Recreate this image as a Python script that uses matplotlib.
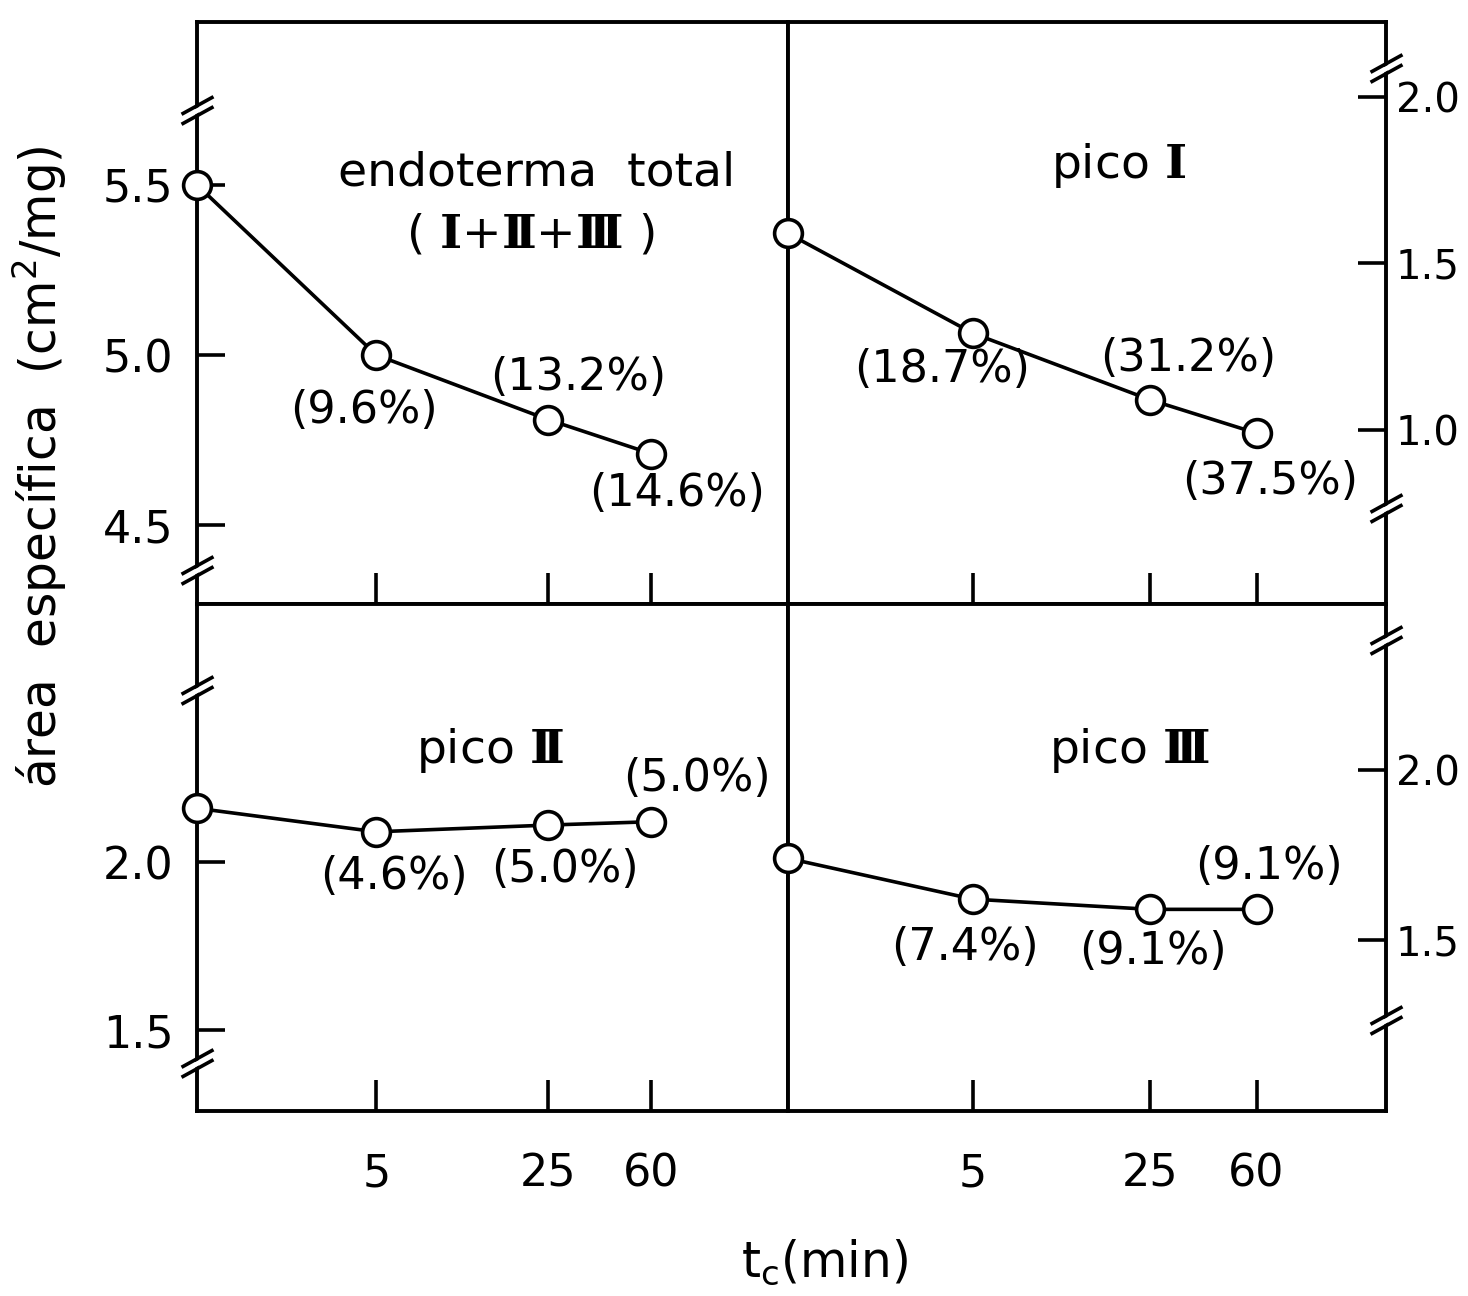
import numpy as np
import matplotlib
matplotlib.use("Agg")
import matplotlib.pyplot as plt
from matplotlib import transforms

# curing time (min) and specific area of each endotherm
t_min = [0, 5, 25, 60]
xtick_values = [5, 25, 60]
xtick_labels = ["5", "25", "60"]

area_total = [5.50, 5.00, 4.81, 4.71]
area_pico1 = [1.59, 1.29, 1.09, 0.99]
area_pico2 = [2.16, 2.09, 2.11, 2.12]
area_pico3 = [1.74, 1.62, 1.59, 1.59]

pct_total = ["", "(9.6%)", "(13.2%)", "(14.6%)"]
pct_pico1 = ["", "(18.7%)", "(31.2%)", "(37.5%)"]
pct_pico2 = ["", "(4.6%)", "(5.0%)", "(5.0%)"]
pct_pico3 = ["", "(7.4%)", "(9.1%)", "(9.1%)"]

yticks_total = [4.5, 5.0, 5.5]
yticks_pico1 = [1.0, 1.5, 2.0]
yticks_pico2 = [1.5, 2.0]
yticks_pico3 = [1.5, 2.0]

FS = 32
LW = 2.6

plt.rcParams["font.family"] = ["DejaVu Sans"]
plt.rcParams["mathtext.fontset"] = "custom"
plt.rcParams["mathtext.rm"] = "DejaVu Serif"
plt.rcParams["mathtext.bf"] = "DejaVu Serif:bold"
plt.rcParams["mathtext.sf"] = "DejaVu Sans"


def fwd(t):
    return np.log10(np.asarray(t, dtype=float) + 1.5)


def inv(u):
    return 10 ** np.asarray(u, dtype=float) - 1.5


fig = plt.figure(figsize=(14.68, 12.96), dpi=100)

x0, xm, x1 = 197 / 1468, 788 / 1468, 1386 / 1468
y_top, y_mid, y_bot = 1 - 22 / 1296, 1 - 604 / 1296, 1 - 1111 / 1296

ax_tl = fig.add_axes([x0, y_mid, xm - x0, y_top - y_mid])
ax_tr = fig.add_axes([xm, y_mid, x1 - xm, y_top - y_mid])
ax_bl = fig.add_axes([x0, y_bot, xm - x0, y_mid - y_bot])
ax_br = fig.add_axes([xm, y_bot, x1 - xm, y_mid - y_bot])


def axis_break(ax, side, yf):
    x = 0 if side == "left" else 1
    slash = [(-1, -0.55), (1, 0.55)]
    for dy in (-5, 5):
        tr = transforms.offset_copy(ax.transAxes, fig=fig, x=0, y=dy, units="dots")
        ax.plot([x], [yf], marker=slash, ms=23, mew=2.6, color="black",
                transform=tr, clip_on=False, zorder=6)
    ax.plot([x], [yf], marker=slash, ms=9, mew=3.5, color="white",
            transform=ax.transAxes, clip_on=False, zorder=5)


def setup(ax, xlim, ylim, yticks, side, bottom_labels):
    ax.set_xscale("function", functions=(fwd, inv))
    ax.set_xlim(*xlim)
    ax.set_ylim(*ylim)
    for sp in ax.spines.values():
        sp.set_linewidth(2.8)
    ax.set_xticks(xtick_values)
    if bottom_labels:
        ax.set_xticklabels(xtick_labels)
    else:
        ax.set_xticklabels([])
    ax.xaxis.set_minor_locator(plt.NullLocator())
    ax.tick_params(axis="x", direction="in", length=22, width=2.6,
                   labelsize=FS, pad=30, top=False)
    ax.set_yticks(yticks)
    ax.set_yticklabels([f"{v:.1f}" for v in yticks])
    if side == "left":
        ax.tick_params(axis="y", direction="in", length=20, width=2.6,
                       labelsize=FS, pad=17, left=True, right=False)
    else:
        ax.yaxis.tick_right()
        ax.tick_params(axis="y", direction="in", length=20, width=2.6,
                       labelsize=29, pad=7, left=False, right=True)


def draw(ax, values, labels, offsets):
    ax.plot(t_min, values, color="black", lw=LW, marker="o", ms=20,
            mfc="white", mec="black", mew=2.6, clip_on=False, zorder=7)
    for t, v, lab, off in zip(t_min, values, labels, offsets):
        if lab:
            ax.annotate(lab, xy=(t, v), xytext=off, textcoords="offset points",
                        ha="center", va="center", fontsize=FS)


setup(ax_tl, (0, 187), (4.268, 5.979), yticks_total, "left", False)
setup(ax_tr, (0, 170), (0.477, 2.225), yticks_pico1, "right", False)
setup(ax_bl, (0, 187), (1.259, 2.768), yticks_pico2, "left", True)
setup(ax_br, (0, 170), (0.997, 2.488), yticks_pico3, "right", True)

draw(ax_tl, area_total, pct_total, [None, (-9, -40), (22, 30), (19, -29)])
draw(ax_tr, area_pico1, pct_pico1, [None, (-22, -26), (27, 30), (10, -35)])
draw(ax_bl, area_pico2, pct_pico2, [None, (13, -32), (12, -32), (33, 31)])
draw(ax_br, area_pico3, pct_pico3, [None, (-6, -35), (2, -30), (9, 31)])

axis_break(ax_tl, "left", 0.849)
axis_break(ax_tl, "left", 0.058)
axis_break(ax_tr, "right", 0.921)
axis_break(ax_tr, "right", 0.165)
axis_break(ax_bl, "left", 0.830)
axis_break(ax_bl, "left", 0.095)
axis_break(ax_br, "right", 0.929)
axis_break(ax_br, "right", 0.179)

# panel titles, roman numerals in bold serif
TFS = 34
ax_tl.text(0.575, 0.741, "endoterma  total", transform=ax_tl.transAxes,
           ha="center", va="center", fontsize=TFS)
ax_tl.text(0.563, 0.634, r"( $\mathbf{Ⅰ}$+$\mathbf{Ⅱ}$+$\mathbf{Ⅲ}$ )",
           transform=ax_tl.transAxes, ha="center", va="center", fontsize=TFS)
ax_tr.text(0.553, 0.754, r"pico $\mathbf{Ⅰ}$", transform=ax_tr.transAxes,
           ha="center", va="center", fontsize=TFS)
ax_bl.text(0.496, 0.712, r"pico $\mathbf{Ⅱ}$", transform=ax_bl.transAxes,
           ha="center", va="center", fontsize=TFS)
ax_br.text(0.570, 0.712, r"pico $\mathbf{Ⅲ}$", transform=ax_br.transAxes,
           ha="center", va="center", fontsize=TFS)

fig.text(40 / 1468, 1 - 467 / 1296, r"área  específica  (cm$^\mathsf{2}$/mg)",
         rotation=90, ha="center", va="center", fontsize=35)
fig.text(825 / 1468, 1 - 1262 / 1296, r"t$_\mathsf{c}$(min)", ha="center",
         va="center", fontsize=35)

fig.savefig("out.png", dpi=100)
